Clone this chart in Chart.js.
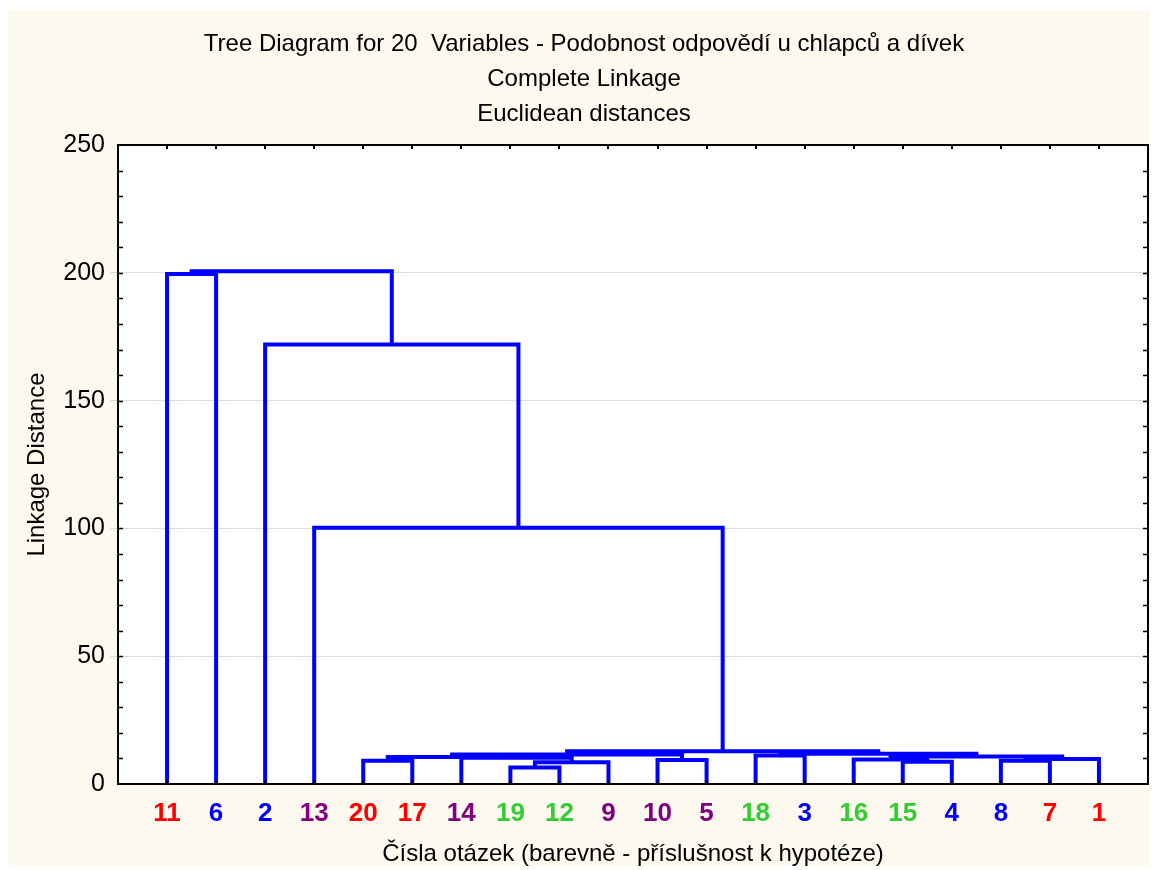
<!DOCTYPE html>
<html>
<head>
<meta charset="utf-8">
<script src="https://cdn.jsdelivr.net/npm/chart.js@4/dist/chart.umd.min.js"></script>
<style>
    html, body { margin: 0; padding: 0; background: #fff; }
</style>
</head>
<body>
<canvas id="treeChart" width="1155" height="870"></canvas>
<script>
// leaf order on the x axis and which hypothesis each question belongs to
const leafLabels = ['11', '6', '2', '13', '20', '17', '14', '19', '12', '9', '10', '5', '18', '3', '16', '15', '4', '8', '7', '1'];
const leafGroups = ['r', 'b', 'b', 'p', 'r', 'r', 'p', 'g', 'g', 'p', 'p', 'p', 'g', 'b', 'g', 'g', 'b', 'b', 'r', 'r'];
const groupColors = { r: '#FF0000', b: '#0000FF', p: '#800080', g: '#33CC33' };

// merges (m0, m1, ... refer to earlier merges), linkage distance of each
const mergeLeft   = ['19', 'm0', '15', '20', '8', '10', '16', 'm4', '14', 'm3', 'm6', '18', 'm9', 'm11', 'm12', '13', '2', '11', 'm17'];
const mergeRight  = ['12', '9', '4', '17', '7', '5', 'm2', '1', 'm1', 'm8', 'm7', '3', 'm5', 'm10', 'm13', 'm14', 'm15', '6', 'm16'];
const mergeHeight = [6.5, 8.5, 8.7, 9.1, 9.1, 9.4, 9.6, 9.8, 10.3, 10.6, 10.8, 11.2, 11.5, 11.8, 12.8, 100.3, 172, 199.6, 200.6];

const yTickValues = [0, 50, 100, 150, 200, 250];

const FONT = "'Liberation Sans', Arial, sans-serif";

// build node positions: leaves at 1..20, clusters at the midpoint of their children
var nodes = {};
leafLabels.forEach(function (lab, i) {
    nodes[lab] = { x: i + 1, h: 0 };
});

var datasets = [];
mergeHeight.forEach(function (h, k) {
    var a = nodes[mergeLeft[k]];
    var b = nodes[mergeRight[k]];
    nodes['m' + k] = { x: (a.x + b.x) / 2, h: h };
    datasets.push({
        data: [
            { x: a.x, y: a.h },
            { x: a.x, y: h },
            { x: b.x, y: h },
            { x: b.x, y: b.h }
        ],
        showLine: true,
        borderColor: '#0000FF',
        borderWidth: 4,
        borderJoinStyle: 'miter',
        pointRadius: 0,
        fill: false,
        tension: 0
    });
});

// cream background, white plot area
var backgroundPlugin = {
    id: 'background',
    beforeDraw: function (chart) {
        var ctx = chart.ctx;
        var area = chart.chartArea;
        ctx.save();
        ctx.fillStyle = '#ffffff';
        ctx.fillRect(0, 0, chart.width, chart.height);
        ctx.fillStyle = '#FDF9EF';
        ctx.fillRect(8, 10, 1142, 856);
        ctx.fillStyle = '#ffffff';
        ctx.fillRect(area.left, area.top, area.right - area.left, area.bottom - area.top);
        ctx.restore();
    }
};

// frame on top/right and the small inward tick marks
var framePlugin = {
    id: 'frame',
    afterDraw: function (chart) {
        var ctx = chart.ctx;
        var area = chart.chartArea;
        var xs = chart.scales.x;
        var ys = chart.scales.y;
        ctx.save();
        ctx.strokeStyle = '#000';
        ctx.lineWidth = 2;
        ctx.beginPath();
        ctx.moveTo(area.left, area.top);
        ctx.lineTo(area.right, area.top);
        ctx.lineTo(area.right, area.bottom);
        ctx.lineTo(area.left, area.bottom);
        ctx.lineTo(area.left, area.top);
        ctx.stroke();

        ctx.lineWidth = 1.5;
        ctx.beginPath();
        for (var v = 10; v < 250; v += 10) {
            var py = Math.round(ys.getPixelForValue(v)) + 0.5;
            ctx.moveTo(area.left, py);
            ctx.lineTo(area.left + 5, py);
            ctx.moveTo(area.right, py);
            ctx.lineTo(area.right - 5, py);
        }
        ctx.stroke();

        ctx.lineWidth = 2;
        ctx.beginPath();
        leafLabels.forEach(function (lab, i) {
            var px = Math.round(xs.getPixelForValue(i + 1));
            ctx.moveTo(px, area.bottom);
            ctx.lineTo(px, area.bottom - 4);
            ctx.moveTo(px, area.top);
            ctx.lineTo(px, area.top + 4);
        });
        ctx.stroke();
        ctx.restore();
    }
};

var chart = new Chart(document.getElementById('treeChart').getContext('2d'), {
    type: 'scatter',
    data: { datasets: datasets },
    options: {
        responsive: false,
        animation: false,
        layout: { padding: { left: 20, right: 7, top: 0, bottom: 1 } },
        plugins: {
            legend: { display: false },
            tooltip: { enabled: false },
            title: {
                display: true,
                text: [
                    'Tree Diagram for 20  Variables - Podobnost odpovědí u chlapců a dívek',
                    'Complete Linkage',
                    'Euclidean distances'
                ],
                color: '#000',
                font: { family: FONT, size: 24, weight: 'normal', lineHeight: 1.46 },
                padding: { top: 27, bottom: 13 }
            }
        },
        scales: {
            x: {
                type: 'linear',
                min: 0,
                max: 21,
                afterBuildTicks: function (scale) {
                    scale.ticks = leafLabels.map(function (lab, i) { return { value: i + 1 }; });
                },
                afterFit: function (scale) { scale.height = 85; },
                grid: { display: false, drawTicks: false },
                border: { display: true, color: '#000', width: 2 },
                ticks: {
                    padding: 14,
                    autoSkip: false,
                    maxRotation: 0,
                    font: { family: FONT, size: 26, weight: 'bold' },
                    color: function (c) { return groupColors[leafGroups[c.tick.value - 1]]; },
                    callback: function (value) { return leafLabels[value - 1]; }
                },
                title: {
                    display: true,
                    text: 'Čísla otázek (barevně - příslušnost k hypotéze)',
                    color: '#000',
                    font: { family: FONT, size: 24 },
                    padding: { top: 2, bottom: 0 }
                }
            },
            y: {
                min: 0,
                max: 250,
                afterBuildTicks: function (scale) {
                    scale.ticks = yTickValues.map(function (v) { return { value: v }; });
                },
                afterFit: function (scale) { scale.width = 98; },
                grid: {
                    color: function (c) {
                        return (c.tick && (c.tick.value === 0 || c.tick.value === 250)) ? 'rgba(0,0,0,0)' : '#DCDCDC';
                    },
                    tickLength: 8
                },
                border: { display: true, color: '#000', width: 2 },
                ticks: {
                    padding: 5,
                    color: '#000',
                    font: { family: FONT, size: 25 }
                },
                title: {
                    display: true,
                    text: 'Linkage Distance',
                    color: '#000',
                    font: { family: FONT, size: 24 },
                    padding: { top: 3, bottom: 4 }
                }
            }
        }
    },
    plugins: [backgroundPlugin, framePlugin]
});
</script>
</body>
</html>
